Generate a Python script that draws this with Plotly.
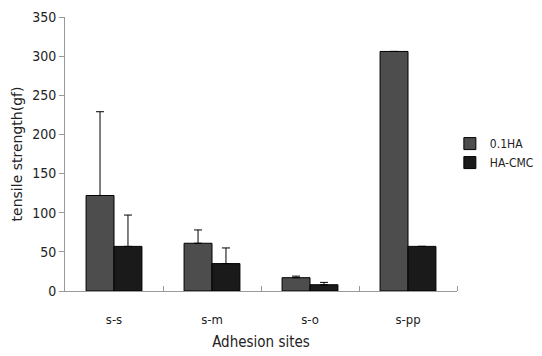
import plotly.graph_objects as go

categories = ["s-s", "s-m", "s-o", "s-pp"]
ha01 = [122, 61, 17, 306]
ha01_err = [107, 17, 2, 0]
hacmc = [57, 35, 8, 57]
hacmc_err = [40, 20, 3, 0]
yticks = [0, 50, 100, 150, 200, 250, 300, 350]

pos = list(range(len(categories)))
font = "DejaVu Sans Condensed, Liberation Sans, sans-serif"

fig = go.Figure()
fig.add_trace(go.Bar(
    x=pos, y=ha01, name="0.1HA",
    marker=dict(color="#4d4d4d", line=dict(color="#000000", width=1)),
    error_y=dict(type="data", array=ha01_err, arrayminus=[0]*4, symmetric=False,
                 color="#000000", thickness=1, width=4, visible=True),
))
fig.add_trace(go.Bar(
    x=pos, y=hacmc, name="HA-CMC",
    marker=dict(color="#1a1a1a", line=dict(color="#000000", width=1)),
    error_y=dict(type="data", array=hacmc_err, arrayminus=[0]*4, symmetric=False,
                 color="#000000", thickness=1, width=4, visible=True),
))

fig.update_layout(
    width=542, height=356,
    margin=dict(l=65, r=85, t=17, b=65, autoexpand=False),
    paper_bgcolor="white", plot_bgcolor="white",
    barmode="group", bargap=0.43, bargroupgap=0,
    font=dict(family=font, size=13, color="#222222"),
    showlegend=True,
    legend=dict(x=0.83, y=0.57, xref="container", yref="container",
                xanchor="left", yanchor="middle",
                font=dict(size=12, family=font), tracegroupgap=0,
                itemwidth=30, bgcolor="rgba(0,0,0,0)"),
    xaxis=dict(
        range=[-0.5, 3.5], tickvals=pos, ticktext=categories, automargin=False,
        ticks="", showline=True, linecolor="#999999", linewidth=1,
        showgrid=False, zeroline=False, ticklabelstandoff=16,
        minor=dict(tickvals=[0.5, 1.5, 2.5, 3.5], ticks="inside", ticklen=5,
                   tickcolor="#999999", showgrid=False),
        title=dict(text="Adhesion sites", font=dict(size=15, family=font), standoff=10),
        tickfont=dict(size=13, family=font),
    ),
    yaxis=dict(
        range=[0, 350], tickvals=yticks, ticks="outside", ticklen=5, automargin=False,
        tickcolor="#999999", showline=True, linecolor="#999999", linewidth=1,
        showgrid=False, zeroline=False,
        title=dict(text="tensile strength(gf)", font=dict(size=14, family="DejaVu Sans, sans-serif"), standoff=6),
        tickfont=dict(size=14, family=font),
    ),
)

fig.write_html("out.html")
